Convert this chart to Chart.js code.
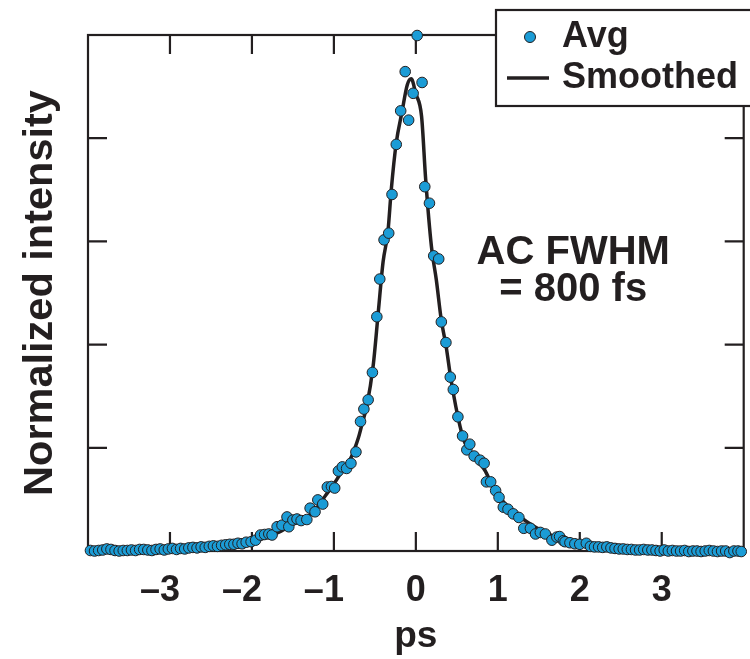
<!DOCTYPE html>
<html>
<head>
<meta charset="utf-8">
<script src="https://cdn.jsdelivr.net/npm/chart.js@4.4.1/dist/chart.umd.min.js"></script>
<style>
  body { margin: 0; background: #fff; }
  #wrap { width: 750px; height: 659px; position: relative; }
</style>
</head>
<body>
<div id="wrap"><canvas id="AcChart"></canvas></div>
<script>
// averaged autocorrelation points (ps, normalized)
var avgX = [-3.97, -3.92, -3.87, -3.82, -3.77, -3.72, -3.67, -3.62, -3.57, -3.52,
    -3.47, -3.42, -3.37, -3.32, -3.27, -3.22, -3.17, -3.12, -3.07, -3.02,
    -2.97, -2.92, -2.87, -2.82, -2.77, -2.72, -2.67, -2.62, -2.57, -2.52,
    -2.47, -2.42, -2.37, -2.32, -2.27, -2.22, -2.17, -2.12, -2.07, -2.01,
    -1.955, -1.895, -1.845, -1.794, -1.754, -1.693, -1.633, -1.572, -1.55, -1.50,
    -1.45, -1.40, -1.33, -1.29, -1.23, -1.196, -1.136, -1.08, -1.03, -0.99,
    -0.945, -0.897, -0.845, -0.792, -0.731, -0.675, -0.634, -0.582, -0.53, -0.476,
    -0.44, -0.388, -0.331, -0.291, -0.239, -0.185, -0.13, -0.088, -0.033, 0.016,
    0.076, 0.109, 0.166, 0.218, 0.279, 0.311, 0.367, 0.42, 0.457, 0.513,
    0.57, 0.622, 0.658, 0.711, 0.784, 0.833, 0.861, 0.913, 0.973, 1.015,
    1.067, 1.124, 1.188, 1.257, 1.317, 1.398, 1.46, 1.519, 1.58, 1.66,
    1.72, 1.754, 1.80, 1.82, 1.88, 1.94, 2.0, 2.08, 2.13, 2.18,
    2.23, 2.28, 2.33, 2.38, 2.43, 2.48, 2.53, 2.58, 2.63, 2.68,
    2.73, 2.78, 2.83, 2.88, 2.93, 2.98, 3.03, 3.08, 3.13, 3.18,
    3.23, 3.28, 3.33, 3.38, 3.43, 3.48, 3.53, 3.58, 3.63, 3.68,
    3.73, 3.78, 3.83, 3.88, 3.93, 3.97];
var avgY = [0.001, 0.000, 0.001, 0.002, 0.004, 0.003, 0.001, 0.000, 0.001, 0.001,
    0.002, 0.001, 0.003, 0.003, 0.002, 0.001, 0.003, 0.004, 0.002, 0.004,
    0.005, 0.003, 0.005, 0.004, 0.006, 0.007, 0.006, 0.008, 0.007, 0.009,
    0.010, 0.009, 0.011, 0.012, 0.013, 0.013, 0.015, 0.014, 0.017, 0.018,
    0.021, 0.031, 0.032, 0.033, 0.031, 0.047, 0.050, 0.066, 0.047, 0.060,
    0.062, 0.059, 0.061, 0.083, 0.076, 0.099, 0.091, 0.124, 0.125, 0.122,
    0.155, 0.163, 0.160, 0.170, 0.192, 0.251, 0.275, 0.293, 0.346, 0.454,
    0.527, 0.603, 0.616, 0.691, 0.788, 0.853, 0.929, 0.835, 0.887, 0.999,
    0.908, 0.706, 0.674, 0.572, 0.566, 0.444, 0.404, 0.337, 0.313, 0.260,
    0.223, 0.196, 0.207, 0.184, 0.176, 0.170, 0.134, 0.134, 0.117, 0.104,
    0.085, 0.081, 0.072, 0.065, 0.044, 0.044, 0.033, 0.036, 0.033, 0.021,
    0.027, 0.028, 0.020, 0.018, 0.016, 0.014, 0.013, 0.015, 0.009, 0.008,
    0.008, 0.007, 0.008, 0.006, 0.005, 0.004, 0.004, 0.003, 0.003, 0.002,
    0.002, 0.003, 0.002, 0.002, 0.001, 0.000, 0.002, 0.000, 0.001, 0.000,
    0.000, 0.001, -0.001, 0.000, 0.000, -0.001, 0.000, 0.001, 0.000, -0.001,
    0.000, 0.000, -0.003, 0.000, 0.000, -0.001];

// smoothed curve
var smX = [-4.0, -3.5, -3.0, -2.6, -2.3, -2.1, -1.95, -1.8, -1.65, -1.5,
    -1.35, -1.2, -1.1, -1.0, -0.9, -0.8, -0.7, -0.65, -0.6, -0.52,
    -0.46, -0.4, -0.34, -0.3, -0.24, -0.17, -0.105, -0.057, 0.0, 0.07,
    0.12, 0.19, 0.25, 0.31, 0.37, 0.43, 0.54, 0.6, 0.72, 0.84,
    0.96, 1.08, 1.24, 1.45, 1.65, 1.85, 2.05, 2.3, 2.6, 3.0,
    3.5, 4.0];
var smY = [0.000, 0.001, 0.003, 0.006, 0.011, 0.015, 0.020, 0.028, 0.038, 0.052,
    0.062, 0.085, 0.108, 0.130, 0.155, 0.178, 0.220, 0.250, 0.280, 0.360,
    0.460, 0.560, 0.620, 0.700, 0.790, 0.850, 0.903, 0.915, 0.886, 0.842,
    0.720, 0.590, 0.525, 0.448, 0.396, 0.331, 0.241, 0.209, 0.182, 0.157,
    0.118, 0.093, 0.070, 0.047, 0.031, 0.021, 0.014, 0.008, 0.004, 0.002,
    0.001, 0.000];

var xTicks = [-3, -2, -1, 0, 1, 2, 3];
var yTicks = [0.2, 0.4, 0.6, 0.8];

var ink = '#231f20';
var dotBlue = '#1b9cd6';
var boldFont = 'Liberation Sans, Arial, Helvetica, sans-serif';

function pts(xs, ys) {
    return xs.map(function(x, i) { return { x: x, y: ys[i] }; });
}

// frame with inward ticks on all four sides
var framePlugin = {
    id: 'frame',
    beforeDatasetsDraw: function(chart) {
        var a = chart.chartArea, ctx = chart.ctx;
        var sx = chart.scales.x, sy = chart.scales.y;
        var tl = 19;
        ctx.save();
        ctx.strokeStyle = ink;
        ctx.lineWidth = 2.2;
        ctx.strokeRect(a.left, a.top, a.right - a.left, a.bottom - a.top);
        ctx.beginPath();
        xTicks.forEach(function(v) {
            var px = sx.getPixelForValue(v);
            ctx.moveTo(px, a.bottom); ctx.lineTo(px, a.bottom - tl);
            ctx.moveTo(px, a.top); ctx.lineTo(px, a.top + tl);
        });
        yTicks.forEach(function(v) {
            var py = sy.getPixelForValue(v);
            ctx.moveTo(a.left, py); ctx.lineTo(a.left + tl, py);
            ctx.moveTo(a.right, py); ctx.lineTo(a.right - tl, py);
        });
        ctx.stroke();
        ctx.restore();
    }
};

// legend box + FWHM note
var notesPlugin = {
    id: 'notes',
    afterDraw: function(chart) {
        var ctx = chart.ctx, sx = chart.scales.x, sy = chart.scales.y;
        var ds = chart.data.datasets;
        ctx.save();
        ctx.fillStyle = '#fff';
        ctx.strokeStyle = ink;
        ctx.lineWidth = 2.2;
        ctx.fillRect(496, 10, 300, 96);
        ctx.strokeRect(496, 10, 300, 96);

        ctx.beginPath();
        ctx.arc(530, 37, 5.5, 0, Math.PI * 2);
        ctx.fillStyle = dotBlue;
        ctx.fill();
        ctx.lineWidth = 1;
        ctx.strokeStyle = ink;
        ctx.stroke();

        ctx.beginPath();
        ctx.lineWidth = 3.5;
        ctx.moveTo(507, 78); ctx.lineTo(549, 78);
        ctx.stroke();

        ctx.fillStyle = ink;
        ctx.font = 'bold 36px ' + boldFont;
        ctx.textAlign = 'left';
        ctx.textBaseline = 'alphabetic';
        ctx.fillText(ds[0].label, 562, 47);
        ctx.fillText(ds[1].label, 562, 88);

        ctx.font = 'bold 40px ' + boldFont;
        ctx.textAlign = 'center';
        var cx = sx.getPixelForValue(1.92);
        ctx.fillText('AC FWHM', cx, sy.getPixelForValue(0.556));
        ctx.fillText('= 800 fs', cx, sy.getPixelForValue(0.485));
        ctx.restore();
    }
};

new Chart(document.getElementById('AcChart'), {
    type: 'scatter',
    data: {
        datasets: [{
            label: 'Avg',
            data: pts(avgX, avgY),
            pointRadius: 5.3,
            pointHoverRadius: 5.3,
            pointBackgroundColor: dotBlue,
            pointBorderColor: ink,
            pointBorderWidth: 1,
            showLine: false,
            clip: false,
            order: 1
        }, {
            label: 'Smoothed',
            data: pts(smX, smY),
            showLine: true,
            borderColor: ink,
            borderWidth: 3.5,
            pointRadius: 0,
            cubicInterpolationMode: 'monotone',
            clip: false,
            order: 2
        }]
    },
    options: {
        responsive: true,
        maintainAspectRatio: false,
        animation: false,
        layout: { padding: { top: 35, right: 2, left: 0, bottom: 0 } },
        plugins: {
            legend: { display: false },
            tooltip: { enabled: false }
        },
        scales: {
            x: {
                type: 'linear',
                min: -4,
                max: 4,
                afterFit: function(scale) {
                    scale.height = 108;
                    scale.paddingLeft = 0;
                    scale.paddingRight = 0;
                },
                grid: { display: false, drawTicks: false },
                border: { display: false },
                ticks: {
                    stepSize: 1,
                    padding: 18,
                    color: ink,
                    font: { family: boldFont, size: 36, weight: 'bold' },
                    callback: function(v) {
                        if (v <= -4 || v >= 4) return '';
                        // two trailing spaces balance the dash so the digit sits on the tick
                        return v < 0 ? '\u2013' + Math.abs(v) + '  ' : String(v);
                    }
                },
                title: {
                    display: true,
                    text: 'ps',
                    color: ink,
                    padding: { top: 0, bottom: 0 },
                    font: { family: boldFont, size: 37, weight: 'bold' }
                }
            },
            y: {
                type: 'linear',
                min: 0,
                max: 1,
                afterFit: function(scale) { scale.width = 88; },
                grid: { display: false, drawTicks: false },
                border: { display: false },
                ticks: { display: false },
                title: {
                    display: true,
                    text: 'Normalized intensity',
                    color: ink,
                    padding: { top: 16, bottom: 0 },
                    font: { family: boldFont, size: 41.5, weight: 'bold' }
                }
            }
        }
    },
    plugins: [framePlugin, notesPlugin]
});
</script>
</body>
</html>
